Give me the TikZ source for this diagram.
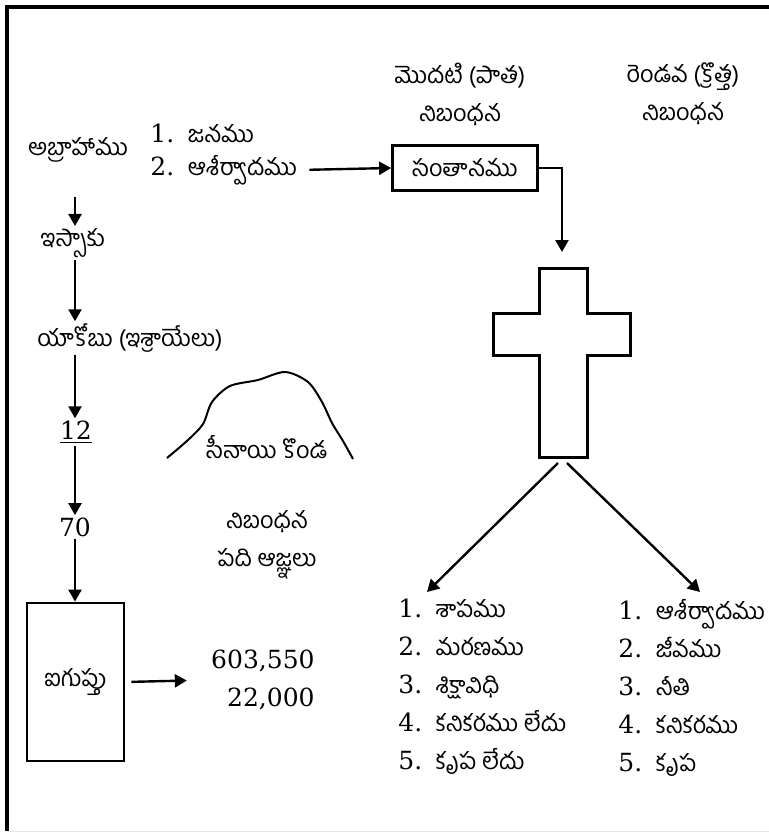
\documentclass[tikz,border=0pt]{standalone}
\usepackage{fontspec}
\setmainfont{DejaVu Serif}
\newfontfamily\tel[Script=Telugu,Scale=0.94]{Hind Guntur}
\usepackage{tikz}
\usetikzlibrary{arrows.meta}
\usetikzlibrary{positioning}

\newcommand{\itm}[1]{{\rmfamily #1.}\hspace{3pt}}

\begin{document}
\begin{tikzpicture}[x=0.5pt, y=-0.5pt,
    every node/.style={font=\fontsize{12.5}{19}\selectfont\tel, inner sep=1pt},
    arr/.style={line width=1.2pt, -{Triangle[length=6pt,width=6.5pt]}},
    boxed/.style={draw, line width=1.4pt}]
    \useasboundingbox (0,0) rectangle (769,834);
    % frame
    \draw[line width=2pt] (7,831) -- (7,7) -- (769,7);
    \draw[black!10] (7,831) -- (769,831);

    % headings
    \node[align=center] (old) at (460,94) {మొదటి (పాత)\\నిబంధన};
    \node[align=center] (new) at (683,94) {రెండవ (క్రొత్త)\\నిబంధన};

    % left column
    \coordinate (col) at (75,0);
    \node (abr) at (78,150) {అబ్రాహాము};
    \node[anchor=west] (gift1) at (148,133) {\itm1 జనము};
    \node[anchor=west] (gift2) at (148,170) {\itm2 ఆశీర్వాదము};
    \node (isaac) at (73,243) {ఇస్సాకు};
    \node[anchor=west] (jacob) at (35,338) {యాకోబు (ఇశ్రాయేలు)};
    \node (twelve) at (76,432) {\rmfamily\underline{12}};
    \node (seventy) at (75,527) {\rmfamily 70};
    \node[boxed, minimum width=48.5pt, minimum height=79pt] (egypt) at (75.5,682) {ఐగుప్తు};
    \node[anchor=east, align=right] (count) at (317,680) {\rmfamily 603,550\\\rmfamily 22,000};

    \draw[arr] ([yshift=-16pt]abr.south -| col) -- (isaac.north -| col);
    \draw[arr] (isaac.south -| col) -- (jacob.north -| col);
    \draw[arr] (jacob.south -| col) -- (twelve.north -| col);
    \draw[arr] (twelve.south -| col) -- (seventy.north -| col);
    \draw[arr] (seventy.south -| col) -- (egypt.north -| col);
    \draw[arr, shorten <=3pt, shorten >=11pt] (egypt.east) -- (count.west);

    % mountain
    \draw[line width=1pt] plot[smooth] coordinates {(167,458) (188,440) (203,424) (212,402)
        (230,386) (258,380) (285,372) (308,382) (322,402) (332,423) (343,441) (353,459)};
    \node (sinai) at (267,447) {సీనాయి కొండ};
    \node[align=center] (law) at (267,545) {నిబంధన\\పది ఆజ్ఞలు};

    % old covenant -> cross
    \node[boxed, minimum width=72.5pt, minimum height=22.5pt] (seed) at (465,168) {సంతానము};
    \draw[arr, shorten <=5pt] (gift2.east) -- (seed.west);
    \coordinate (ctop) at (562,252);
    \draw[arr] (seed.east) -| (ctop);

    % cross
    \draw[line width=1.5pt] (539,268) -- (587,268) -- (587,313) -- (630,313) -- (630,355)
        -- (587,355) -- (587,457) -- (539,457) -- (539,355) -- (493,355) -- (493,313)
        -- (539,313) -- cycle;
    \coordinate (lfrom) at (558,463);
    \coordinate (lto) at (427,592);
    \coordinate (rfrom) at (567,463);
    \coordinate (rto) at (700,592);
    \draw[arr] (lfrom) -- (lto);
    \draw[arr] (rfrom) -- (rto);

    % two lists
    \node[anchor=north west, align=left] (curse) at (396,597)
        {\itm1 శాపము\\ \itm2 మరణము\\ \itm3 శిక్షావిధి\\ \itm4 కనికరము లేదు\\ \itm5 కృప లేదు};
    \node[anchor=north west, align=left] (bless) at (616,597)
        {\itm1 ఆశీర్వాదము\\ \itm2 జీవము\\ \itm3 నీతి\\ \itm4 కనికరము\\ \itm5 కృప};
\end{tikzpicture}
\end{document}
